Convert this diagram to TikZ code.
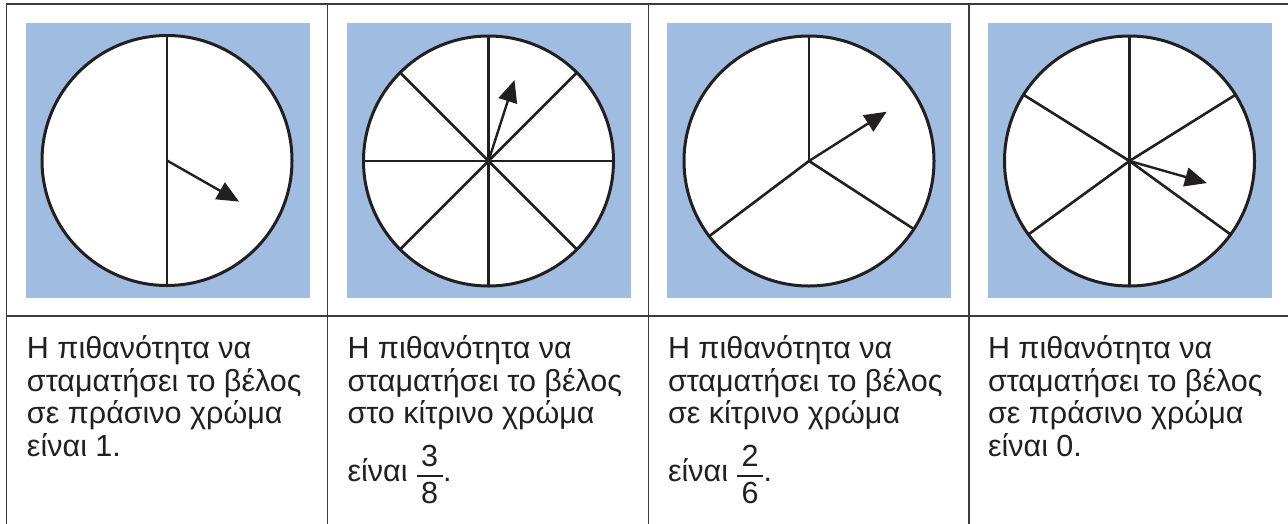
\documentclass[tikz,border=0pt]{standalone}
\usepackage{fontspec}
\setmainfont{Liberation Sans}
\usetikzlibrary{arrows.meta,calc}
\definecolor{panelblue}{RGB}{161,188,225}
\definecolor{ink}{RGB}{35,31,32}
\definecolor{rulegray}{RGB}{60,60,60}
\begin{document}
\begin{tikzpicture}[x=1pt,y=-1pt,
  panel/.style={fill=panelblue, draw=none},
  wheel/.style={circle, draw=ink, line width=3pt, fill=white, minimum size=250pt, inner sep=0pt, outer sep=0pt},
  spoke/.style={draw=ink, line width=2.6pt},
  pointer/.style={draw=ink, line width=2.4pt, -{Triangle[length=22pt,width=19pt]}},
  gridline/.style={draw=rulegray, line width=1.6pt},
  txt/.style={font=\fontsize{30.5}{32.5}\selectfont, text=ink, inner sep=0pt, outer sep=0pt, anchor=base west},
  fracbar/.style={draw=ink, line width=1.8pt}]
\useasboundingbox (0,0) rectangle (1288,523);
\fill[white] (0,0) rectangle (1288,523);

% table rules
\draw[gridline] (6.5,530) -- (6.5,4) -- (1295,4);
\draw[gridline] (6.5,316) -- (1295,316);
\draw[gridline] (327.5,4) -- (327.5,530);
\draw[gridline] (648.3,4) -- (648.3,530);
\draw[gridline] (969,4) -- (969,530);

% blue panels
\fill[panel] (26,23) rectangle (310,298);
\fill[panel] (347,23) rectangle (631,298);
\fill[panel] (667,23) rectangle (951,298);
\fill[panel] (988,23) rectangle (1272,298);

% wheels
\node[wheel] (c1) at (167,160.5) {};
\node[wheel] (c2) at (488.5,161) {};
\node[wheel] (c3) at (809,161) {};
\node[wheel] (c4) at (1129.5,161) {};

% wheel 1: halves
\draw[spoke] (c1.90) -- (c1.-90);
% wheel 2: eighths
\foreach \a in {0,45,90,135} {\draw[spoke] (c2.\a) -- (c2.\a+180);}
% wheel 3: three sectors
\draw[spoke] (c3.center) -- (c3.90);
\draw[spoke] (c3.center) -- (c3.-33.4);
\draw[spoke] (c3.center) -- (c3.217);
% wheel 4: six sectors
\draw[spoke] (c4.90) -- (c4.-90);
\draw[spoke] (c4.center) -- (c4.32.6);
\draw[spoke] (c4.center) -- (c4.148.2);
\draw[spoke] (c4.center) -- (c4.-36);
\draw[spoke] (c4.center) -- (c4.216);

% pointers
\draw[pointer] (c1.center) -- ++(-29.7:83pt);
\draw[pointer] (c2.center) -- ++(72.2:85pt);
\draw[pointer] (c3.center) -- ++(32.4:92pt);
\draw[pointer] (c4.center) -- ++(-15.9:80.5pt);

% column 1 text
\node[txt] (a1) at (27,358.5) {Η πιθανότητα να};
\node[txt] (a2) at (27,391) {σταματήσει το βέλος};
\node[txt] (a3) at (27,423.5) {σε πράσινο χρώμα};
\node[txt] (a4) at (27,456) {είναι 1.};

% column 2 text
\node[txt] (b1) at (347.5,358.5) {Η πιθανότητα να};
\node[txt] (b2) at (347.5,391) {σταματήσει το βέλος};
\node[txt] (b3) at (347.5,423.5) {στο κίτρινο χρώμα};
\node[txt] (b4) at (347.5,481) {είναι};
\draw[fracbar] ($(b4.base east)+(9,-5.3)$) -- ($(b4.base east)+(35,-5.3)$);
\node[txt, anchor=base] (b4n) at ($(b4.base east)+(22,-14.3)$) {3};
\node[txt, anchor=base] (b4d) at ($(b4.base east)+(22,22)$) {8};
\node[txt] (b4p) at ($(b4.base east)+(35.5,0)$) {.};

% column 3 text
\node[txt] (d1) at (668,358.5) {Η πιθανότητα να};
\node[txt] (d2) at (668,391) {σταματήσει το βέλος};
\node[txt] (d3) at (668,423.5) {σε κίτρινο χρώμα};
\node[txt] (d4) at (668,481) {είναι};
\draw[fracbar] ($(d4.base east)+(9,-5.3)$) -- ($(d4.base east)+(35,-5.3)$);
\node[txt, anchor=base] (d4n) at ($(d4.base east)+(22,-14.3)$) {2};
\node[txt, anchor=base] (d4d) at ($(d4.base east)+(22,22)$) {6};
\node[txt] (d4p) at ($(d4.base east)+(35.5,0)$) {.};

% column 4 text
\node[txt] (e1) at (988,358.5) {Η πιθανότητα να};
\node[txt] (e2) at (988,391) {σταματήσει το βέλος};
\node[txt] (e3) at (988,423.5) {σε πράσινο χρώμα};
\node[txt] (e4) at (988,456) {είναι 0.};
\end{tikzpicture}
\end{document}
